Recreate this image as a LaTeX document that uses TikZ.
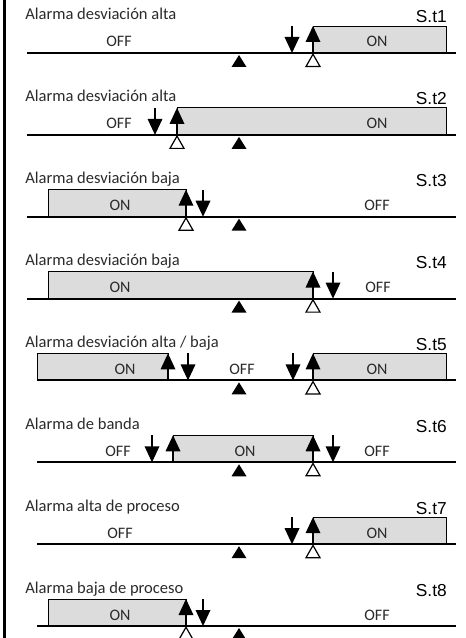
\documentclass[tikz,border=0pt]{standalone}
\usepackage{fontspec}
\setmainfont{Carlito}
\newfontfamily\codefont{Liberation Sans}
\definecolor{boxgray}{HTML}{DCDCDC}
\definecolor{txt}{HTML}{2A2A2A}
\tikzset{
  axisline/.style={line width=1.5pt},
  border/.style={line width=1.8pt},
  onbox/.style={draw=black, line width=0.7pt, fill=boxgray},
  lbl/.style={font=\fontsize{12}{14}\selectfont, text=txt, inner sep=0pt, anchor=base},
  ttl/.style={font=\fontsize{12.4}{14}\selectfont, text=txt, inner sep=0pt, anchor=base west},
  code/.style={font=\codefont\fontsize{13}{15}\selectfont, inner sep=0pt, anchor=base east},
  shaft/.style={line width=2pt},
  hyst/.style={draw=black, fill=white, line width=0.9pt},
}
\newcommand\dnarr[1]{\draw[shaft] (#1,-27) -- (#1,-14);\fill (#1-7.5,-16) -- (#1+7.5,-16) -- (#1,0) -- cycle;}
\newcommand\uparr[1]{\draw[shaft] (#1,0) -- (#1,-12);\fill (#1-7.5,-11) -- (#1+7.5,-11) -- (#1,-27) -- cycle;}
\newcommand\spmark[1]{\fill (#1-7.5,14) -- (#1+7.5,14) -- (#1,2) -- cycle;}
\newcommand\hymark[1]{\draw[hyst] (#1-7,13.5) -- (#1+7,13.5) -- (#1,1.2) -- cycle;}
\begin{document}
\begin{tikzpicture}[x=0.75pt,y=-0.75pt]
\useasboundingbox (0,0) rectangle (466,638);
\clip (0,0) rectangle (466,638);
\draw[border] (4.5,0) -- (4.5,638);
% Panel 1
\begin{scope}[shift={(0,53)}]
\node[ttl] (t1) at (25,-33) {Alarma desviación alta};
\node[code] (c1) at (447,-30) {S.t1};
\draw[onbox] (313,-27) rectangle (446,0);
\draw[axisline] (27,0) -- (456,0);
\node[lbl] (off1) at (119,-6) {OFF};
\node[lbl] (on1) at (377,-6) {ON};
\dnarr{292}\uparr{313}\spmark{239}\hymark{313}
\end{scope}
% Panel 2
\begin{scope}[shift={(0,134.9)}]
\node[ttl] (t2) at (25,-33) {Alarma desviación alta};
\node[code] (c2) at (447,-30) {S.t2};
\draw[onbox] (177,-27) rectangle (446,0);
\draw[axisline] (27,0) -- (456,0);
\node[lbl] (off2) at (119,-6) {OFF};
\node[lbl] (on2) at (377,-6) {ON};
\dnarr{155}\uparr{177}\spmark{239}\hymark{177}
\end{scope}
% Panel 3
\begin{scope}[shift={(0,216.7)}]
\node[ttl] (t3) at (25,-33) {Alarma desviación baja};
\node[code] (c3) at (447,-30) {S.t3};
\draw[onbox] (48,-27) rectangle (186,0);
\draw[axisline] (27,0) -- (456,0);
\node[lbl] (on3) at (120,-6) {ON};
\node[lbl] (off3) at (377,-6) {OFF};
\uparr{186}\dnarr{203}\spmark{239}\hymark{186}
\end{scope}
% Panel 4
\begin{scope}[shift={(0,298.6)}]
\node[ttl] (t4) at (25,-33) {Alarma desviación baja};
\node[code] (c4) at (447,-30) {S.t4};
\draw[onbox] (48,-27) rectangle (313,0);
\draw[axisline] (27,0) -- (456,0);
\node[lbl] (on4) at (120,-6) {ON};
\node[lbl] (off4) at (378,-6) {OFF};
\uparr{313}\dnarr{333}\spmark{239}\hymark{313}
\end{scope}
% Panel 5
\begin{scope}[shift={(0,380.4)}]
\node[ttl] (t5) at (25,-33) {Alarma desviación alta / baja};
\node[code] (c5) at (447,-30) {S.t5};
\draw[onbox] (37,-27) rectangle (168,0);
\draw[onbox] (313,-27) rectangle (446,0);
\draw[axisline] (37,0) -- (456,0);
\node[lbl] (on5a) at (125,-6) {ON};
\node[lbl] (off5) at (242,-6) {OFF};
\node[lbl] (on5b) at (377,-6) {ON};
\uparr{168}\dnarr{188}\dnarr{293}\uparr{313}\spmark{239}\hymark{313}
\end{scope}
% Panel 6
\begin{scope}[shift={(0,462.3)}]
\node[ttl] (t6) at (25,-33) {Alarma de banda};
\node[code] (c6) at (447,-30) {S.t6};
\draw[onbox] (173,-27) rectangle (313,0);
\draw[axisline] (37,0) -- (456,0);
\node[lbl] (off6a) at (118,-6) {OFF};
\node[lbl] (on6) at (245,-6) {ON};
\node[lbl] (off6b) at (377,-6) {OFF};
\dnarr{152}\uparr{173}\uparr{313}\dnarr{333}\spmark{239}\hymark{313}
\end{scope}
% Panel 7
\begin{scope}[shift={(0,544.2)}]
\node[ttl] (t7) at (25,-33) {Alarma alta de proceso};
\node[code] (c7) at (447,-30) {S.t7};
\draw[onbox] (313,-27) rectangle (446,0);
\draw[axisline] (37,0) -- (456,0);
\node[lbl] (off7) at (120,-6) {OFF};
\node[lbl] (on7) at (377,-6) {ON};
\dnarr{292}\uparr{313}\spmark{239}\hymark{313}
\end{scope}
% Panel 8
\begin{scope}[shift={(0,626)}]
\node[ttl] (t8) at (25,-33) {Alarma baja de proceso};
\node[code] (c8) at (447,-30) {S.t8};
\draw[onbox] (48,-27) rectangle (186,0);
\draw[axisline] (37,0) -- (456,0);
\node[lbl] (on8) at (120,-6) {ON};
\node[lbl] (off8) at (377,-6) {OFF};
\uparr{186}\dnarr{203}\spmark{239}\hymark{186}
\end{scope}
\end{tikzpicture}
\end{document}
